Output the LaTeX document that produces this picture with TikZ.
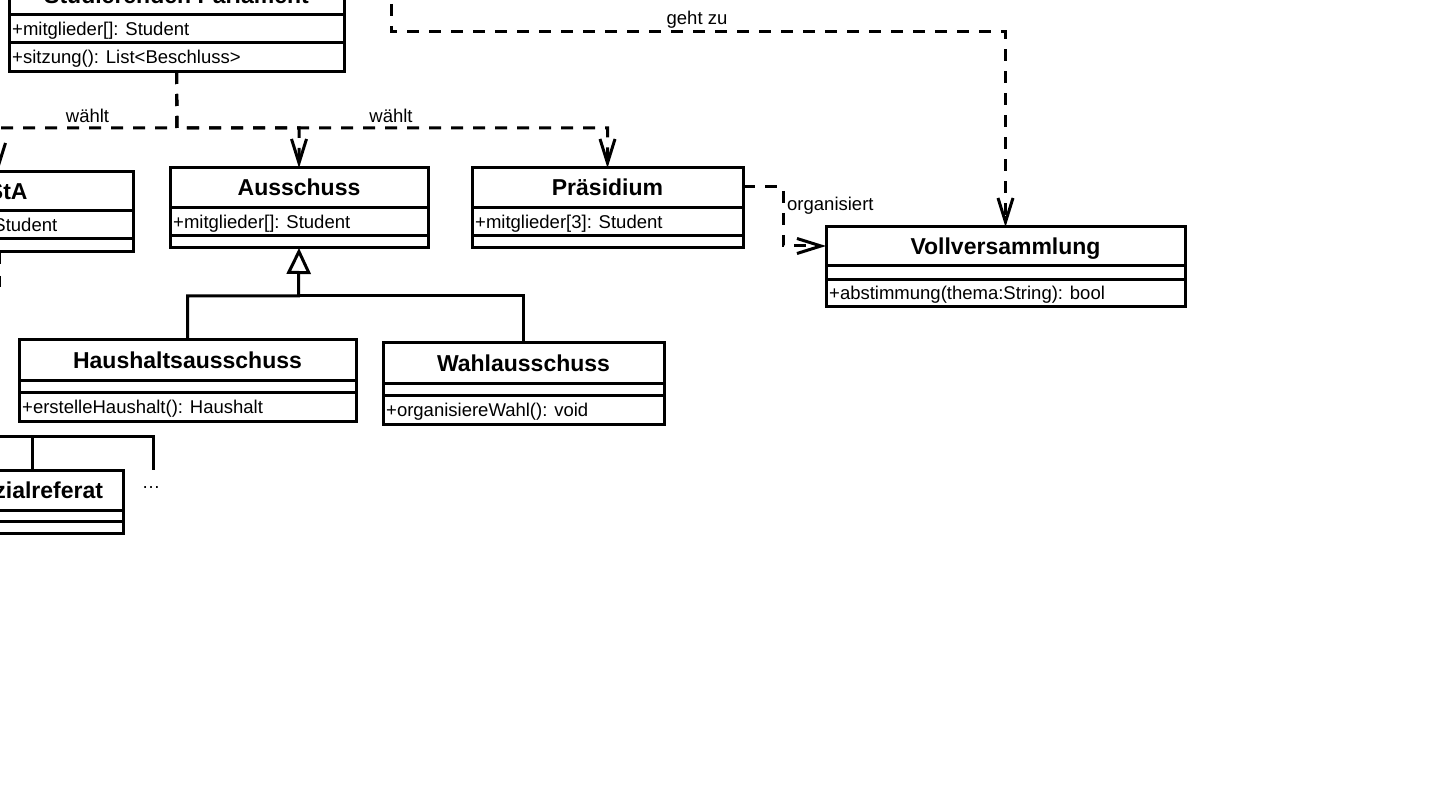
\documentclass[tikz,border=0pt]{standalone}
\usepackage{fontspec}
\setmainfont{Liberation Sans}
\usetikzlibrary{arrows.meta,fit}
\tikzset{
  frame/.style={draw, line width=3pt, inner sep=0pt, outer sep=0pt},
  sepline/.style={line width=3pt},
  ttl/.style={font=\fontsize{23}{27}\selectfont\bfseries, anchor=base, inner sep=0pt},
  txt/.style={font=\fontsize{18.5}{22}\selectfont, anchor=base west, inner sep=0pt},
  lbl/.style={font=\fontsize{18.5}{22}\selectfont, anchor=base, inner sep=0pt},
  dep/.style={line width=3pt, dash pattern=on 12pt off 10pt, -{Straight Barb[length=24pt,width=15pt]}},
  plainline/.style={line width=3pt},
  gen/.style={line width=3pt, -{Triangle[open,length=26pt,width=24pt,fill=white]}},
}
\newcommand\umlcls[8]{%
  \node[frame, fit={(#2,#4) (#3,#7)}] (#1) {};
  \draw[sepline] (#2,#5) -- (#3,#5);
  \draw[sepline] (#2,#6) -- (#3,#6);
  \node[ttl] (#1-t) at ({(#2+#3)/2},{(#4+#5)/2+8}) {#8};
}
\begin{document}
\begin{tikzpicture}[x=1pt,y=-1pt]
\useasboundingbox (0,0) rectangle (1446,794);
\fill[white] (0,0) rectangle (1446,794);
\clip (0,0) rectangle (1446,794);

% classes
\umlcls{parl}{9}{344}{-24}{15}{43}{72}{Studierenden Parlament}
\node[txt] (parl-a) at (12,35.5) {+mitglieder[]: Student};
\node[txt] (parl-m) at (12,64) {+sitzung(): List<Beschluss>};

\umlcls{asta}{-134}{133}{172}{211}{239}{252}{AStA}
\node[txt] (asta-a) at (-120,231.5) {+mitglieder[]: Student};

\umlcls{aus}{170}{428}{168}{208}{236}{248}{Ausschuss}
\node[txt] (aus-a) at (173,228.5) {+mitglieder[]: Student};

\umlcls{prae}{472}{743}{168}{208}{236}{248}{Präsidium}
\node[txt] (prae-a) at (475,228.5) {+mitglieder[3]: Student};

\umlcls{voll}{826}{1185}{227}{266}{280}{307}{Vollversammlung}
\node[txt] (voll-m) at (829,300) {+abstimmung(thema:String): bool};

\umlcls{haus}{19}{356}{340}{380}{392}{421}{Haushaltsausschuss}
\node[txt] (haus-m) at (22,413) {+erstelleHaushalt(): Haushalt};

\umlcls{wahl}{383}{664}{343}{383}{395}{424}{Wahlausschuss}
\node[txt] (wahl-m) at (386,416) {+organisiereWahl(): void};

\umlcls{soz}{-55}{123}{470}{510}{521}{533}{Sozialreferat}

% wählt edges
\coordinate (wj) at (177,128);
\draw[dep] (parl.south) -- (wj) -| ([xshift=-1.5pt]asta.north);
\draw[dep] (parl.south) -- (wj) -| (aus.north);
\draw[dep] (parl.south) -- (wj) -| (prae.north);
\node[lbl] (l1) at (87.5,123) {wählt};
\node[lbl] (l2) at (391,123) {wählt};

% geht zu
\coordinate (gz0) at (391,-40);
\coordinate (gzc) at (700,32);
\draw[dep] (gz0) |- (gzc) -| (voll.north);
\node[lbl] (l3) at (697,25) {geht zu};

% organisiert
\draw[dep] ([yshift=21pt]prae.east) -- ++(40,0) |- ([yshift=21pt]voll.west);
\node[txt] (l4) at (787,211) {organisiert};

% generalization
\coordinate (gj) at (298.5,296);
\draw[plainline] (wahl.north) |- (gj);
\draw[gen] (haus.north) |- (gj) -- (aus.south);

% dashed stub below AStA
\coordinate (as1) at (-0.3,288);
\draw[plainline, dash pattern=on 11pt off 12pt] (-0.3,253) -- (as1);

% tree at bottom left
\coordinate (t0) at (-80,436);
\coordinate (j1) at (32,436);
\coordinate (t1) at (153,470);
\draw[plainline] (t0) -| (t1);
\draw[plainline] (j1) -- (j1 |- soz.north);
\node[lbl] (dots) at (151,488) {…};
\end{tikzpicture}
\end{document}
